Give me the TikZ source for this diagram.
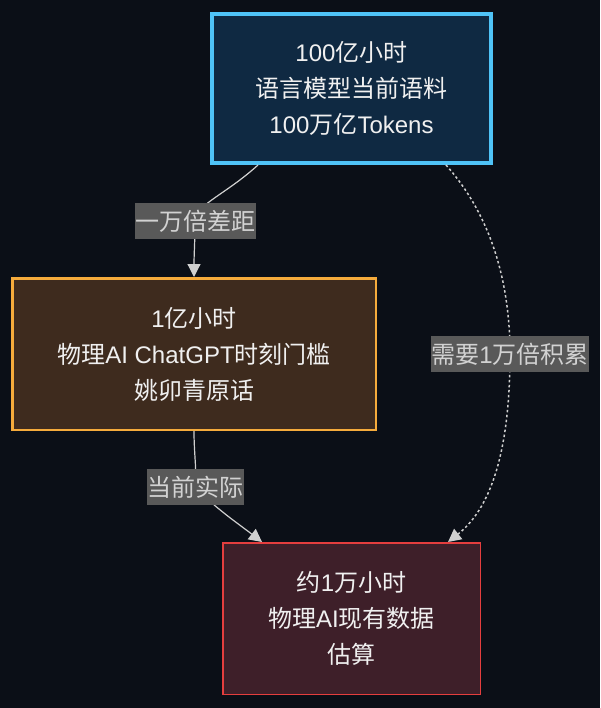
\documentclass[tikz,border=0pt]{standalone}
\usepackage{fontspec}
\usepackage{xcolor}
\usepackage{tikz}
\usetikzlibrary{arrows.meta}
\setmainfont{Liberation Sans}
\newfontfamily\zhfont{Noto Sans CJK SC}
\newcommand{\zh}[1]{{\zhfont #1}}
\definecolor{canvas}{HTML}{0B0F17}
\definecolor{goalfill}{HTML}{0F2942}
\definecolor{goalline}{HTML}{4FC3F7}
\definecolor{gatefill}{HTML}{3E2B1E}
\definecolor{gateline}{HTML}{F5AB3C}
\definecolor{nowfill}{HTML}{3E1F29}
\definecolor{nowline}{HTML}{E53E3E}
\definecolor{tagfill}{HTML}{595959}
\definecolor{tagtext}{HTML}{D2D2D2}
\definecolor{wire}{HTML}{D0D0D0}

\begin{document}
\begin{tikzpicture}[x=1pt,y=-1pt,
        box/.style={align=center,text=white!94!black,inner sep=0pt,
                font=\fontsize{24}{36}\selectfont},
        tag/.style={fill=tagfill,text=tagtext,inner xsep=0.5pt,inner ysep=0pt,
                minimum height=36pt,font=\fontsize{24}{26}\selectfont},
        edge/.style={wire,line width=1.2pt,-{Triangle[length=13pt,width=13pt]}}]
        % background
        \fill[canvas] (0,0) rectangle (600,708);
        \useasboundingbox (0,0) rectangle (600,708);

        % boxes
        \node[box,draw=goalline,fill=goalfill,line width=4pt,minimum width=279pt,minimum height=149pt]
        (goal) at (351.5,88.5) {100\zh{亿小时}\\\zh{语言模型当前语料}\\100\zh{万亿}Tokens};
        \node[box,draw=gateline,fill=gatefill,line width=2.5pt,minimum width=363.5pt,minimum height=151.5pt]
        (gate) at (194,354) {1\zh{亿小时}\\\zh{物理}AI ChatGPT\zh{时刻门槛}\\\zh{姚卯青原话}};
        \node[box,draw=nowline,fill=nowfill,line width=1.5pt,minimum width=257.5pt,minimum height=151.5pt]
        (now) at (351.5,618.5) {\zh{约}1\zh{万小时}\\\zh{物理}AI\zh{现有数据}\\\zh{估算}};

        % labels
        \coordinate (gap) at (195,221);
        \coordinate (real) at (195,487);
        \coordinate (need) at (510,354);

        % connectors
        \draw[edge] ([xshift=48pt]goal.south west) .. controls (225,195) and (195,205) .. (gap)
        .. controls (195,240) and (194,255) .. (gate.north);
        \draw[edge] (gate.south) .. controls (194,455) and (197,470) .. (real)
        .. controls (215,508) and (240,525) .. ([xshift=40pt]now.north west);
        \draw[edge,line width=1.5pt,dash pattern=on 2.5pt off 2.5pt] ([xshift=-47pt]goal.south east)
        .. controls (495,220) and (510,290) .. (need)
        .. controls (510,440) and (495,505) .. ([xshift=-33pt]now.north east);

        \node[tag] (gaptag) at (gap) {\zh{一万倍差距}};
        \node[tag] (realtag) at (real) {\zh{当前实际}};
        \node[tag] (needtag) at (need) {\zh{需要}1\zh{万倍积累}};
\end{tikzpicture}
\end{document}
